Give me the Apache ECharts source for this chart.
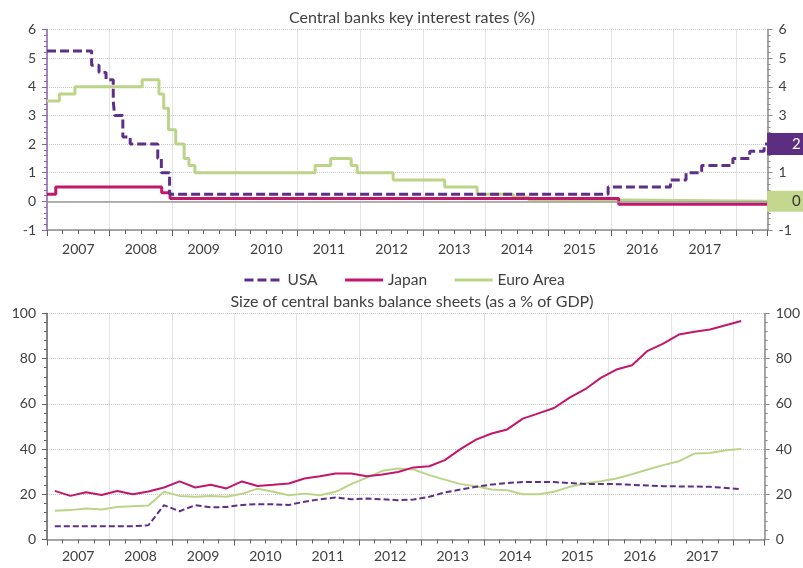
<!DOCTYPE html>
<html>
<head>
<meta charset="utf-8">
<script src="https://cdn.jsdelivr.net/npm/echarts@6/dist/echarts.min.js"></script>
<style>html,body{margin:0;padding:0;background:#fff}#c{width:803px;height:568px}</style>
</head>
<body>
<div id="c"></div>
<script>
// ---- Top chart: policy rates (value holds from the given date onward) ----
const usaDates = ['2007-01-01','2007-09-18','2007-10-31','2007-12-11','2008-01-22','2008-01-30','2008-03-18','2008-04-30','2008-10-08','2008-10-29','2008-12-16','2015-12-16','2016-12-14','2017-03-15','2017-06-14','2017-12-13','2018-03-21','2018-06-13','2018-06-30'];
const usaRates = [5.25,4.75,4.5,4.25,3.5,3.0,2.25,2.0,1.5,1.0,0.25,0.5,0.75,1.0,1.25,1.5,1.75,2.0,2.0];
const japanDates = ['2007-01-01','2007-02-21','2008-10-31','2008-12-19','2016-02-16','2018-06-30'];
const japanRates = [0.25,0.5,0.3,0.1,-0.1,-0.1];
const euroDates = ['2007-01-01','2007-03-14','2007-06-13','2008-07-09','2008-10-15','2008-11-12','2008-12-10','2009-01-21','2009-03-11','2009-04-08','2009-05-13','2011-04-13','2011-07-13','2011-11-09','2011-12-14','2012-07-11','2013-05-08','2013-11-13','2014-06-11','2014-09-10','2016-03-16','2018-06-30'];
const euroRates = [3.5,3.75,4.0,4.25,3.75,3.25,2.5,2.0,1.5,1.25,1.0,1.25,1.5,1.25,1.0,0.75,0.5,0.25,0.15,0.05,0.0,0.0];

// ---- Bottom chart: balance sheets, quarterly 2007Q1..2018Q1 ----
const firstYear = 2007;
const usaBS = [5.9,5.9,5.9,5.9, 5.9,5.9,6.3,15.2, 12.5,15.2,14.2,14.4, 15.3,15.6,15.6,15.3, 16.7,17.8,18.6,17.8, 18.1,17.8,17.4,17.7, 18.9,20.8,22.1,23.3, 24.3,25.0,25.4,25.4, 25.4,25.0,24.6,24.6, 24.5,24.2,23.9,23.6, 23.5,23.5,23.3,22.8, 22.3];
const japanBS = [21.5,19.3,20.9,19.7, 21.5,20.0,21.2,23.0, 25.7,23.0,24.2,22.6, 25.7,23.7,24.2,24.8, 27.0,28.0,29.2,29.2, 28.0,28.8,29.9,31.9, 32.4,35.1,40.0,44.2, 46.9,48.7,53.5,55.8, 58.2,62.8,66.5,71.5, 75.2,77.1,83.5,86.7, 90.7,91.9,92.9,94.8, 96.7];
const euroBS = [12.7,13.0,13.7,13.3, 14.4,14.7,15.0,21.1, 19.3,18.9,19.2,18.9, 20.2,22.5,21.1,19.6, 20.3,19.6,21.1,24.5, 27.4,30.4,31.4,31.0, 28.5,26.5,24.5,23.6, 22.1,21.8,20.0,20.0, 21.1,23.3,24.8,25.8, 27.0,28.9,31.0,32.9, 34.6,38.0,38.3,39.5, 40.0];

const topTicks = [-1,0,1,2,3,4,5,6];
const bottomTicks = [0,20,40,60,80,100];

const C_USA = '#5f2f87', C_JPN = '#c2176b', C_EUR = '#bcd488';
const FONT = 'Lato';
const TXT = '#404040';

function yearFrac(s){
  const d = new Date(s + 'T00:00:00Z');
  const y = d.getUTCFullYear();
  const a = Date.UTC(y,0,1), b = Date.UTC(y+1,0,1);
  return y + (d.getTime() - a) / (b - a);
}
const pairs = (dates, vals) => dates.map((d,i) => [yearFrac(d), vals[i]]);
const quarterPos = vals => vals.map((v,i) => [firstYear + Math.floor(i/4) + (i%4)*0.25 + 0.125, v]);

const X_MIN = 2007, X_MAX = 2018.5;

function dataX(gridIndex){
  return {
    type:'value', gridIndex, min:X_MIN, max:X_MAX, interval:1, position:'bottom',
    axisLine:{show:true, onZero:false, lineStyle:{color:'#8c8c8c', width:1.5}},
    axisTick:{show:true, length:6, lineStyle:{color:'#606060'}},
    minorTick:{show:true, splitNumber:4, length:4, lineStyle:{color:'#606060'}},
    axisLabel:{show:false},
    splitLine:{show:true, lineStyle:{color:'#c8c8c8', type:'dotted', width:1}}
  };
}
function labelX(gridIndex, margin){
  return {
    type:'value', gridIndex, min:X_MIN, max:X_MAX, interval:0.5, position:'bottom',
    axisLine:{show:false}, axisTick:{show:false}, splitLine:{show:false},
    axisLabel:{show:true, margin, fontSize:14, color:TXT, fontFamily:FONT,
      formatter: v => (Math.abs(v - Math.floor(v) - 0.5) < 1e-6 && v < 2018) ? String(Math.floor(v)) : ''}
  };
}
function yAx(gridIndex, pos, min, max, interval, axisColor){
  return {
    type:'value', gridIndex, position:pos, min, max, interval,
    axisLine:{show:true, lineStyle:{color:axisColor, width:1.5}},
    axisTick:{show:true, length:5, lineStyle:{color:axisColor}},
    minorTick:{show:true, splitNumber:5, length:3, lineStyle:{color:axisColor}},
    axisLabel:{show:true, margin:11, fontSize:14, color:TXT, fontFamily:FONT},
    splitLine:{show:pos === 'left', lineStyle:{color:'#c8c8c8', type:'dotted', width:1}}
  };
}

const chart = echarts.init(document.getElementById('c'), null, {renderer:'canvas'});
chart.setOption({
  animation:false,
  backgroundColor:'#fff',
  title:[
    {text:'Central banks key interest rates (%)', left:407, textAlign:'center', top:5,
     textStyle:{fontSize:16, fontWeight:'normal', color:TXT, fontFamily:FONT}},
    {text:'Size of central banks balance sheets (as a % of GDP)', left:407, textAlign:'center', top:289,
     textStyle:{fontSize:16, fontWeight:'normal', color:TXT, fontFamily:FONT}}
  ],
  legend:{
    data:['USA','Japan','Euro Area'], left:238, top:267, itemWidth:38, itemHeight:16, itemGap:26,
    itemStyle:{opacity:0}, lineStyle:{width:3},
    textStyle:{fontSize:15.5, color:TXT, fontFamily:FONT}
  },
  grid:[
    {left:47, top:29.5, width:720.5, height:200.5},
    {left:47, top:313.5, width:720.5, height:226}
  ],
  xAxis:[dataX(0), labelX(0, 12), dataX(1), labelX(1, 10)],
  yAxis:[
    yAx(0,'left',-1,6,1,'#8a64ad'),
    yAx(0,'right',-1,6,1,'#8c8c8c'),
    yAx(1,'left',0,100,20,'#606060'),
    yAx(1,'right',0,100,20,'#8c8c8c')
  ],
  series:[
    {name:'Euro Area', type:'line', xAxisIndex:0, yAxisIndex:0, step:'end', symbol:'none',
     data:pairs(euroDates, euroRates), lineStyle:{color:C_EUR, width:3}, itemStyle:{color:C_EUR},
     endLabel:{show:true, formatter:'0', distance:0, color:'#333', backgroundColor:'#c3d78e',
       padding:[4,8,3,25], fontSize:15, lineHeight:14, fontFamily:FONT},
     markLine:{silent:true, symbol:'none', data:[{yAxis:0}], label:{show:false},
       lineStyle:{color:'#9a9a9a', type:'solid', width:1.5}}, z:3},
    {name:'Japan', type:'line', xAxisIndex:0, yAxisIndex:0, step:'end', symbol:'none',
     data:pairs(japanDates, japanRates), lineStyle:{color:C_JPN, width:3}, itemStyle:{color:C_JPN}, z:4},
    {name:'USA', type:'line', xAxisIndex:0, yAxisIndex:0, step:'end', symbol:'none',
     data:pairs(usaDates, usaRates), lineStyle:{color:C_USA, width:3, type:[9,4]}, itemStyle:{color:C_USA},
     endLabel:{show:true, formatter:'2', distance:0, color:'#fff', backgroundColor:'#5c2d80',
       padding:[4,8,4,25], fontSize:15, lineHeight:14, fontFamily:FONT}, z:5},
    {name:'Euro Area', type:'line', xAxisIndex:2, yAxisIndex:2, symbol:'none',
     data:quarterPos(euroBS), lineStyle:{color:C_EUR, width:2}, itemStyle:{color:C_EUR}},
    {name:'Japan', type:'line', xAxisIndex:2, yAxisIndex:2, symbol:'none',
     data:quarterPos(japanBS), lineStyle:{color:C_JPN, width:2}, itemStyle:{color:C_JPN}},
    {name:'USA', type:'line', xAxisIndex:2, yAxisIndex:2, symbol:'none',
     data:quarterPos(usaBS), lineStyle:{color:C_USA, width:2, type:[6,3]}, itemStyle:{color:C_USA}}
  ]
});
</script>
</body>
</html>
